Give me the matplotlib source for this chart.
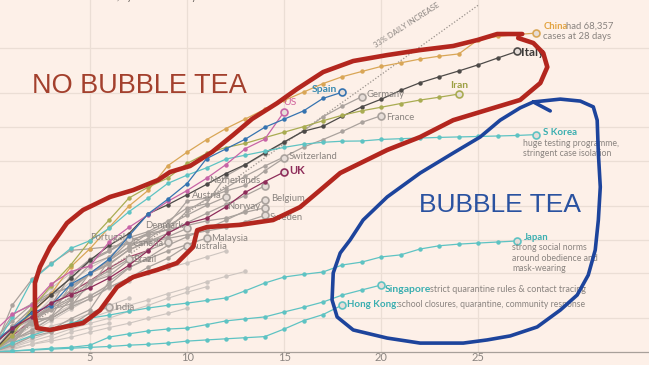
import matplotlib
matplotlib.use("Agg")
import matplotlib.pyplot as plt
import numpy as np

plt.rcParams['font.family'] = ['Lato', 'DejaVu Sans']

# Cumulative cases by days since 100th case
china = [100, 150, 220, 330, 570, 830, 1290, 1980, 2740, 4520, 5970, 7710, 9690, 11790, 14380,
         17210, 20440, 24320, 28020, 31160, 34550, 37200, 40170, 42640, 44650, 59800, 63850, 66490, 68357]
italy = [100, 155, 229, 322, 453, 655, 888, 1128, 1694, 2036, 2502, 3089, 3858, 4636, 5883, 7375,
         9172, 10149, 12462, 15113, 17660, 21157, 24747, 27980, 31506, 35713, 41035, 47021]
spain = [120, 165, 222, 259, 400, 500, 673, 1073, 1695, 2277, 3146, 5232, 6391, 7798, 9942, 11748,
         13910, 17963, 20410]
us = [149, 217, 262, 402, 518, 583, 959, 1281, 1663, 2179, 2726, 3499, 4632, 6421, 7783, 13677]
iran = [100, 140, 245, 388, 593, 978, 1501, 2336, 2922, 3513, 4747, 5823, 6566, 7161, 8042, 9000,
        10075, 11364, 12729, 13938, 14991, 16169, 17361, 18407, 19644]
germany = [130, 159, 196, 262, 482, 670, 799, 1040, 1176, 1457, 1908, 2078, 3675, 4585, 5795, 7272,
           9257, 12327, 15320, 18600]
france = [100, 130, 191, 204, 288, 380, 656, 959, 1136, 1219, 1794, 2284, 2876, 3661, 4499, 5423,
          6633, 7730, 9134, 10995, 12612]
skorea = [104, 204, 433, 602, 833, 977, 1261, 1766, 2337, 3150, 3736, 4335, 5186, 5621, 6088, 6593,
          7041, 7314, 7478, 7513, 7755, 7869, 7979, 8086, 8162, 8236, 8320, 8413, 8565]
uk = [115, 163, 206, 273, 321, 373, 456, 590, 798, 1140, 1391, 1543, 1950, 2626, 3269, 3983]
switzerland = [114, 214, 268, 337, 374, 491, 652, 858, 1139, 1359, 2200, 2330, 2700, 3028, 4075, 5294]
netherlands = [128, 188, 265, 321, 382, 503, 614, 804, 959, 1135, 1413, 1705, 2051, 2460, 2994]
austria = [104, 131, 182, 246, 302, 504, 655, 860, 1018, 1332, 1646, 2013, 2388]
belgium = [109, 169, 200, 239, 267, 314, 399, 559, 689, 886, 1058, 1243, 1486, 1795, 2257]
norway = [100, 147, 176, 205, 400, 598, 702, 996, 1090, 1221, 1333, 1463, 1550, 1746, 1914]
sweden = [101, 161, 203, 248, 355, 500, 599, 814, 961, 1022, 1103, 1190, 1279, 1439, 1639]
denmark = [100, 262, 442, 615, 801, 827, 864, 914, 977, 1057, 1255]
portugal = [112, 169, 245, 331, 448, 642, 785, 1020]
canada = [100, 117, 193, 198, 252, 415, 478, 657, 800, 943]
australia = [107, 128, 156, 200, 250, 297, 377, 452, 568, 681, 876]
malaysia = [117, 129, 149, 158, 197, 238, 428, 566, 673, 790, 900, 1030]
brazil = [100, 121, 200, 234, 291, 428, 528, 670]
india = [100, 114, 137, 151, 173, 223, 250]
japan = [100, 120, 140, 160, 180, 200, 213, 230, 246, 260, 272, 287, 302, 350, 410, 464, 490, 514,
         594, 630, 700, 730, 823, 880, 910, 930, 950, 970]
singapore = [100, 102, 105, 108, 110, 115, 136, 145, 154, 160, 163, 175, 189, 197, 205, 227, 250,
             278, 321, 356, 394]
hongkong = [100, 102, 104, 106, 108, 110, 112, 115, 117, 120, 125, 128, 131, 134, 137, 160, 190,
            215, 262]

# unlabelled background countries
others = [
    [100, 125, 160, 200, 250, 320, 380, 450, 520, 600],
    [100, 115, 140, 170, 190, 220, 260, 300],
    [100, 150, 210, 280, 350, 420, 500],
    [100, 110, 125, 140, 160, 180, 200, 230, 260, 300, 340, 380],
    [100, 135, 190, 260, 330, 400],
    [100, 120, 150, 190, 240, 300, 370, 430, 500, 560, 620, 700, 790],
    [100, 105, 118, 130, 150, 165, 180],
    [100, 140, 200, 300, 420, 560, 700, 850],
    [100, 112, 130, 150, 175, 200, 230, 260, 290, 330, 370, 420, 470, 520],
    [100, 130, 170, 210, 260, 320],
    [100, 108, 117, 125, 135, 150, 165, 180, 200, 220, 245],
    [100, 160, 250, 370, 500, 640, 800, 950, 1150],
]
maroon_other = [100, 140, 190, 250, 340, 430, 560, 700, 800]

# 33% daily increase guide (two end points)
guide_days = [0, 25]
guide_cases = [100, 121000]

# hand-drawn outlines (days, cases)
red_days = [27.27, 25.98, 24.95, 23.71, 22.01, 20.31, 18.56, 17.01, 15.67, 14.64, 13.35, 12.37, 11.29,
            10.15, 9.12, 8.51, 7.22, 6.03, 4.64, 3.81, 2.94, 2.42, 2.16, 2.16, 2.27, 2.94, 4.64, 5.52,
            6.39, 7.22, 8.45, 9.48, 10.31, 10.52, 11.03, 12.73, 14.43, 15.82, 16.86, 17.89, 20.31,
            22.01, 23.71, 25.46, 27.16, 28.20, 28.56, 28.35, 27.84, 27.06]
red_cases = [67100, 67100, 59300, 52500, 48300, 43600, 38600, 30800, 21800, 16300, 11800, 8490, 6000,
             4500, 3980, 3380, 2750, 2390, 1830, 1400, 858, 570, 410, 205, 163, 157, 181, 236,
             378, 464, 536, 618, 858, 1210, 1290, 1350, 1490, 1940, 2750, 3900, 6250,
             8150, 11500, 14200, 17400, 24600, 34100, 45500, 55800, 61800]
blue_days = [27.84, 29.23, 30.26, 30.93, 31.13, 31.19, 31.29, 31.19, 31.03, 30.67, 30.10, 29.23, 28.04,
             26.65, 25.46, 24.23, 22.01, 20.31, 18.56, 17.73, 17.47, 17.53, 17.89, 18.40, 19.07,
             20.31, 22.01, 23.71, 25.10, 26.13, 27.16, 27.84]
blue_cases = [16700, 17700, 17000, 15100, 11500, 5870, 2930, 1490, 807, 483, 321, 236, 167,
              139, 128, 120, 120, 133, 157, 205, 290, 504, 759, 991, 1490,
              2390, 3900, 5870, 8150, 11500, 14800, 16700]
hook_days = [27.84, 28.71]
hook_cases = [16700, 13900]

bg = '#fdf0e8'
grey_text = '#8a8480'
teal = '#5ec3c3'
teal_text = '#3aaeb0'

fig = plt.figure(figsize=(6.49, 3.65), dpi=100, facecolor=bg)
ax = fig.add_axes([0, 13 / 365, 1, 352 / 365])
ax.set_facecolor(bg)
ax.set_yscale('log')
ax.set_xlim(0.36, 33.8)
ax.set_ylim(100, 134600)

# grid
for v in [200, 500, 1000, 2000, 5000, 10000, 20000, 50000]:
    ax.axhline(v, color='#ebded5', lw=0.9, zorder=0)
for d in [5, 10, 15, 20, 25]:
    ax.axvline(d, color='#ebded5', lw=0.9, zorder=0)

ax.set_xticks([5, 10, 15, 20, 25])
ax.set_yticks([])
ax.minorticks_off()
ax.tick_params(axis='x', length=0, pad=0, labelsize=8, labelcolor=grey_text)
for s in ['left', 'right', 'top']:
    ax.spines[s].set_visible(False)
ax.spines['bottom'].set_color('#a8a09a')
ax.spines['bottom'].set_linewidth(0.9)


def draw(vals, color, z=2, end=True, lw=0.9):
    d = np.arange(len(vals))
    ax.plot(d, vals, color=color, lw=lw, marker='o', ms=2.2, mec=color, mfc=color, zorder=z)
    if end:
        ax.plot(d[-1], vals[-1], marker='o', ms=5, mfc='#e6ddd8', mec=color, mew=1.2, zorder=z + 0.5)
    return d[-1], vals[-1]


for o in others:
    draw(o, '#cdc5c0', z=1, end=False, lw=0.8)
draw(maroon_other, '#a04a6a', z=1.5, end=False)

ax.plot(guide_days, guide_cases, color='#9a928c', lw=0.9, ls=(0, (1, 1.5)), zorder=1.8)
ax.text(21.3, 80000, '33% DAILY INCREASE', rotation=33, fontsize=5.5, color='#8a8480',
        ha='center', va='center', zorder=2)


def label(xy, txt, dx, dy, color=grey_text, ha='left', size=6.8, weight='normal', va='center'):
    ax.annotate(txt, xy=xy, xytext=(dx, dy), textcoords='offset pixels', ha=ha, va=va,
                fontsize=size, color=color, fontweight=weight, zorder=6, linespacing=1.25)


# grey labelled countries
for vals, name, dx, dy, ha in [
    (germany, 'Germany', 5, 2, 'left'),
    (france, 'France', 5, -2, 'left'),
    (switzerland, 'Switzerland', 5, 2, 'left'),
    (netherlands, 'Netherlands', -4, 5, 'right'),
    (austria, 'Austria', -4, 1, 'right'),
    (belgium, 'Belgium', 6, 1, 'left'),
    (norway, 'Norway', -4, 1, 'right'),
    (sweden, 'Sweden', 5, -2, 'left'),
    (denmark, 'Denmark', -4, 3, 'right'),
    (portugal, 'Portugal', -4, 1, 'right'),
    (canada, 'Canada', -4, -1, 'right'),
    (australia, 'Australia', 4, -1, 'left'),
    (malaysia, 'Malaysia', 5, 0, 'left'),
    (brazil, 'Brazil', 4, 0, 'left'),
    (india, 'India', 5, 0, 'left'),
]:
    p = draw(vals, '#aaa29d', z=2)
    label(p, name, dx, dy, ha=ha)

# coloured countries
p = draw(china, '#d9a656', z=3)
label(p, 'China', 7, 7, color='#e3a442', weight='bold')
label(p, 'had 68,357', 30, 7)
label(p, 'cases at 28 days', 7, -3)

p = draw(italy, '#4d4a48', z=3)
label(p, 'Italy', 4, -1, color='#3d3a38', weight='bold', size=8.5)

p = draw(spain, '#3573b0', z=3.2)
label(p, 'Spain', -5, 3, color='#3a8ab0', ha='right', weight='bold', size=7.5)

p = draw(us, '#c864a6', z=3.1)
label(p, 'US', 6, 9, color='#d0609a', ha='center', size=7.5)

p = draw(iran, '#a9ac52', z=3)
label(p, 'Iran', 0, 9, color='#9da043', ha='center', weight='bold', size=7.5)

p = draw(uk, '#8e2d5a', z=3.3)
label(p, 'UK', 5, 1, color='#8e2d5a', weight='bold', size=8)

p = draw(skorea, teal, z=3)
label(p, 'S Korea', 7, 2, color=teal_text, weight='bold', size=7)
label(p, 'huge testing programme,\nstringent case isolation', -13, -4, va='top', size=6.3)

p = draw(japan, teal, z=3)
label(p, 'Japan', 7, 3, color=teal_text, weight='bold', size=6.8)
label(p, 'strong social norms\naround obedience and\nmask-wearing', -5, -2, va='top', size=6.3)

p = draw(singapore, teal, z=3)
label(p, 'Singapore', 4, -4, color=teal_text, weight='bold', size=7.5)
label(p, 'strict quarantine rules & contact tracing', 49, -4, size=6.5)

p = draw(hongkong, teal, z=3)
label(p, 'Hong Kong:', 5, 0, color=teal_text, weight='bold', size=7)
label(p, 'school closures, quarantine, community response', 56, 0, size=6.2)

# hand-drawn outlines
ax.plot(red_days, red_cases, color='#b3261e', lw=3.3, solid_capstyle='round',
        solid_joinstyle='round', zorder=8)
ax.plot(blue_days, blue_cases, color='#1d449c', lw=2.6, solid_capstyle='round',
        solid_joinstyle='round', zorder=8)
ax.plot(hook_days, hook_cases, color='#1d449c', lw=2.6, solid_capstyle='round', zorder=8)

ax.text(2.01, 23100, 'NO BUBBLE TEA', fontsize=19.5, color='#a3402d', family='Liberation Sans',
        ha='left', va='center', zorder=9)
ax.text(21.96, 2030, 'BUBBLE TEA', fontsize=19, color='#2a52a0', family='Liberation Sans',
        ha='left', va='center', zorder=9)

fig.text(275 / 649, 1.006, 'Cumulative number of cases, by number of days since 100th case',
         ha='right', va='center', fontsize=7, color='#5a5550')
fig.text(315 / 649, -0.012, 'Number of days since 100th case', ha='center', va='center',
         fontsize=7, color='#5a5550')

fig.savefig('out.png', dpi=100, facecolor=bg)
